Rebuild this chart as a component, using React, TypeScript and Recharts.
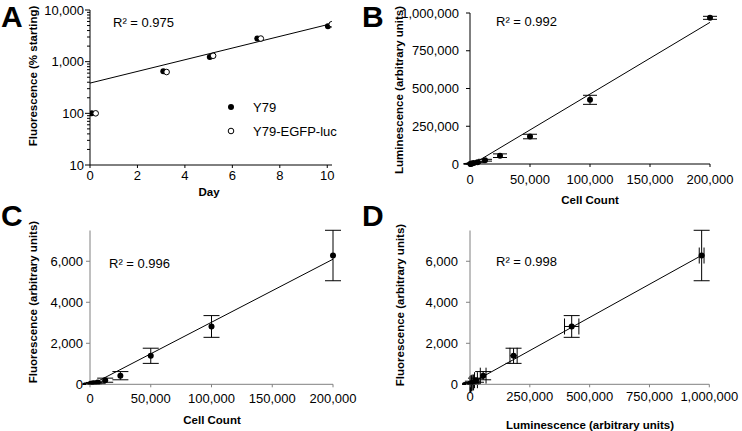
import { ScatterChart, Scatter, XAxis, YAxis, ErrorBar, ReferenceLine } from "recharts";

const FONT = "'Liberation Sans', Arial, Helvetica, sans-serif";

// Panel A: growth over days (log scale)
const y79Days = [0.07, 3.09, 5.05, 7.05, 10.03];
const y79Values = [100, 650, 1230, 2800, 4840];
const egfpDays = [0.24, 3.23, 5.19, 7.2, 10.19];
const egfpValues = [100, 630, 1300, 2800, 5300];
const trendADays = [0, 10.2];
const trendAValues = [385, 5470];
const dayTicks = [0, 2, 4, 6, 8, 10];
const logTicks = [
  10, 20, 30, 40, 50, 60, 70, 80, 90,
  100, 200, 300, 400, 500, 600, 700, 800, 900,
  1000, 2000, 3000, 4000, 5000, 6000, 7000, 8000, 9000,
  10000,
];
const legendNames = ["Y79", "Y79-EGFP-luc"];

// Panels B-D: dilution series
const cellCounts = [200000, 100000, 50000, 25000, 12500, 6250, 3125, 1563, 781, 391];
const luminescence = [968000, 425000, 182000, 55000, 25000, 12000, 6000, 3000, 1500, 800];
const luminescenceErr = [10000, 30000, 15000, 12000, 6000, 3000, 1500, 800, 400, 200];
const fluorescence = [6280, 2820, 1390, 420, 200, 90, 50, 30, 20, 10];
const fluorescenceErr = [1230, 530, 370, 200, 100, 60, 40, 30, 25, 20];

const trendBX = [2500, 200000];
const trendBY = [0, 938000];
const trendCX = [1600, 200000];
const trendCY = [0, 6100];
const trendDX = [0, 970000];
const trendDY = [30, 6300];

const cellTicks = [0, 50000, 100000, 150000, 200000];
const lumTicks = [0, 250000, 500000, 750000, 1000000];
const fluorTicks = [0, 2000, 4000, 6000];

const fmt = (v: number) => v.toLocaleString("en-US");

const y79Data = y79Days.map((d, i) => ({ x: d, y: y79Values[i] }));
const egfpData = egfpDays.map((d, i) => ({ x: d, y: egfpValues[i] }));
const bData = cellCounts.map((c, i) => ({ x: c, y: luminescence[i], ey: luminescenceErr[i] }));
const cData = cellCounts.map((c, i) => ({ x: c, y: fluorescence[i], ey: fluorescenceErr[i] }));
const dData = luminescence.map((l, i) => ({
  x: l,
  y: fluorescence[i],
  ex: luminescenceErr[i],
  ey: fluorescenceErr[i],
}));

const seg = (xs: number[], ys: number[]) => [
  { x: xs[0], y: ys[0] },
  { x: xs[1], y: ys[1] },
];

const tickStyle = { fontSize: 13, fill: "#000" };

// y axis line of panel A sits at local x = 90
const A_AXIS_X = 90;
const LogTick = (props: any) => {
  const { y, payload } = props;
  const v = payload.value as number;
  const lg = Math.log10(v);
  const major = Math.abs(lg - Math.round(lg)) < 1e-6;
  return (
    <g>
      <line x1={A_AXIS_X} x2={A_AXIS_X - (major ? 5 : 3)} y1={y} y2={y} stroke="#000" strokeWidth={1} />
      {major && (
        <text x={A_AXIS_X - 6} y={y} dy={4.5} textAnchor="end" fontSize={13} fill="#000">
          {fmt(v)}
        </text>
      )}
    </g>
  );
};

const Dot = (props: any) => <circle cx={props.cx} cy={props.cy} r={3} fill="#000" />;
const OpenDot = (props: any) => (
  <circle cx={props.cx} cy={props.cy} r={2.8} fill="#fff" stroke="#000" strokeWidth={1} />
);

const GRAY = "#808080";

export default function App() {
  return (
    <div
      style={{
        position: "absolute",
        left: 0,
        top: 0,
        width: 742,
        height: 431,
        background: "#fff",
        fontFamily: FONT,
        overflow: "hidden",
      }}
    >
      {/* A */}
      <div style={{ position: "absolute", left: 0, top: 0 }}>
        <ScatterChart width={371} height={215} margin={{ top: 10, right: 39, bottom: 20, left: 30 }}>
          <XAxis
            type="number"
            dataKey="x"
            domain={[0, 10.2]}
            ticks={dayTicks}
            height={30}
            stroke="#000"
            tickSize={3}
            tickMargin={3}
            tick={tickStyle}
            allowDataOverflow
          />
          <YAxis
            type="number"
            dataKey="y"
            scale="log"
            domain={[10, 10000]}
            ticks={logTicks}
            interval={0}
            width={60}
            stroke="#000"
            tickLine={false}
            tickSize={0}
            tickMargin={0}
            tick={<LogTick />}
            allowDataOverflow
          />
          <ReferenceLine segment={seg(trendADays, trendAValues)} stroke="#000" strokeWidth={1} ifOverflow="hidden" />
          <Scatter name={legendNames[0]} data={y79Data} shape={<Dot />} isAnimationActive={false} />
          <Scatter name={legendNames[1]} data={egfpData} shape={<OpenDot />} isAnimationActive={false} />
        </ScatterChart>
      </div>

      {/* B */}
      <div style={{ position: "absolute", left: 371, top: 0 }}>
        <ScatterChart width={371} height={215} margin={{ top: 13, right: 32, bottom: 21, left: 29 }}>
          <XAxis
            type="number"
            dataKey="x"
            domain={[0, 200000]}
            ticks={cellTicks}
            tickFormatter={fmt}
            height={30}
            stroke="#000"
            tickSize={3}
            tickMargin={8}
            tick={tickStyle}
          />
          <YAxis
            type="number"
            dataKey="y"
            domain={[0, 1000000]}
            ticks={lumTicks}
            tickFormatter={fmt}
            width={70}
            stroke="#000"
            tickSize={4}
            tickMargin={7}
            tick={tickStyle}
          />
          <ReferenceLine segment={seg(trendBX, trendBY)} stroke="#000" strokeWidth={1} ifOverflow="hidden" />
          <Scatter data={bData} shape={<Dot />} isAnimationActive={false}>
            <ErrorBar dataKey="ey" direction="y" width={7} stroke="#000" strokeWidth={1} />
          </Scatter>
        </ScatterChart>
      </div>

      {/* C */}
      <div style={{ position: "absolute", left: 0, top: 215 }}>
        <ScatterChart width={371} height={216} margin={{ top: 15.5, right: 38, bottom: 16.7, left: 30 }}>
          <XAxis
            type="number"
            dataKey="x"
            domain={[0, 200000]}
            ticks={cellTicks}
            tickFormatter={fmt}
            height={30}
            stroke={GRAY}
            tickSize={3}
            tickMargin={6}
            tick={tickStyle}
          />
          <YAxis
            type="number"
            dataKey="y"
            domain={[0, 7500]}
            ticks={fluorTicks}
            tickFormatter={fmt}
            width={60}
            stroke={GRAY}
            tickSize={4}
            tickMargin={3}
            tick={tickStyle}
            allowDataOverflow
          />
          <ReferenceLine segment={seg(trendCX, trendCY)} stroke="#000" strokeWidth={1} ifOverflow="hidden" />
          <Scatter data={cData} shape={<Dot />} isAnimationActive={false}>
            <ErrorBar dataKey="ey" direction="y" width={8} stroke="#000" strokeWidth={1} />
          </Scatter>
        </ScatterChart>
      </div>

      {/* D */}
      <div style={{ position: "absolute", left: 371, top: 215 }}>
        <ScatterChart width={371} height={216} margin={{ top: 15.5, right: 32.7, bottom: 16.7, left: 29 }}>
          <XAxis
            type="number"
            dataKey="x"
            domain={[0, 1000000]}
            ticks={lumTicks}
            tickFormatter={fmt}
            height={30}
            stroke={GRAY}
            tickSize={3}
            tickMargin={4}
            tick={tickStyle}
          />
          <YAxis
            type="number"
            dataKey="y"
            domain={[0, 7500]}
            ticks={fluorTicks}
            tickFormatter={fmt}
            width={70}
            stroke={GRAY}
            tickSize={4}
            tickMargin={8}
            tick={tickStyle}
            allowDataOverflow
          />
          <ReferenceLine segment={seg(trendDX, trendDY)} stroke="#000" strokeWidth={1} ifOverflow="hidden" />
          <Scatter data={dData} shape={<Dot />} isAnimationActive={false}>
            <ErrorBar dataKey="ey" direction="y" width={8} stroke="#000" strokeWidth={1} />
            <ErrorBar dataKey="ex" direction="x" width={8} stroke="#000" strokeWidth={1} />
          </Scatter>
        </ScatterChart>
      </div>

      {/* labels */}
      <svg
        width={742}
        height={431}
        style={{ position: "absolute", left: 0, top: 0, pointerEvents: "none" }}
        fontFamily={FONT}
      >
        <g fontSize={30} fontWeight="bold" fill="#000">
          <text x={1} y={27}>A</text>
          <text x={362} y={27}>B</text>
          <text x={1} y={226}>C</text>
          <text x={362} y={226}>D</text>
        </g>
        <g fontSize={13} fill="#000">
          <text x={113} y={27}>R² = 0.975</text>
          <text x={496} y={26}>R² = 0.992</text>
          <text x={109} y={268}>R² = 0.996</text>
          <text x={496} y={266}>R² = 0.998</text>
        </g>
        {/* legend of panel A */}
        <g fontSize={13} fill="#000">
          <circle cx={231} cy={107} r={3} fill="#000" />
          <text x={253} y={112}>{legendNames[0]}</text>
          <circle cx={231} cy={131} r={2.8} fill="#fff" stroke="#000" />
          <text x={253} y={136}>{legendNames[1]}</text>
        </g>
        <g fontSize={11.5} fontWeight="bold" fill="#000" textAnchor="middle">
          <text x={209} y={196}>Day</text>
          <text x={590} y={204}>Cell Count</text>
          <text x={212} y={424}>Cell Count</text>
          <text x={590} y={429}>Luminescence (arbitrary units)</text>
          <text transform="translate(37 76) rotate(-90)">Fluorescence (% starting)</text>
          <text transform="translate(403 90) rotate(-90)">Luminescence (arbitrary units)</text>
          <text transform="translate(37 302) rotate(-90)">Fluorescence (arbitrary units)</text>
          <text transform="translate(404 305) rotate(-90)">Fluorescence (arbitrary units)</text>
        </g>
      </svg>
    </div>
  );
}
